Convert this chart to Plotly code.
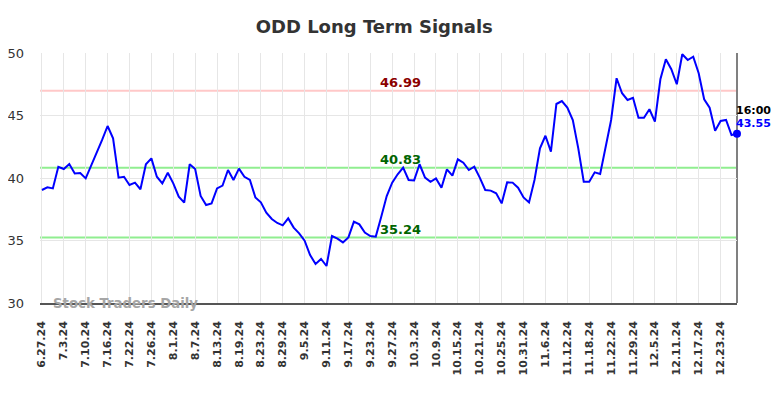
import plotly.graph_objects as go

dates = [
    "6.27.24", "6.28.24",
    "7.1.24", "7.2.24", "7.3.24", "7.5.24", "7.8.24", "7.9.24", "7.10.24", "7.11.24", "7.12.24",
    "7.15.24", "7.16.24", "7.17.24", "7.18.24", "7.19.24", "7.22.24", "7.23.24", "7.24.24",
    "7.25.24", "7.26.24", "7.29.24", "7.30.24", "7.31.24",
    "8.1.24", "8.2.24", "8.5.24", "8.6.24", "8.7.24", "8.8.24", "8.9.24", "8.12.24", "8.13.24",
    "8.14.24", "8.15.24", "8.16.24", "8.19.24", "8.20.24", "8.21.24", "8.22.24", "8.23.24",
    "8.26.24", "8.27.24", "8.28.24", "8.29.24", "8.30.24",
    "9.3.24", "9.4.24", "9.5.24", "9.6.24", "9.9.24", "9.10.24", "9.11.24", "9.12.24", "9.13.24",
    "9.16.24", "9.17.24", "9.18.24", "9.19.24", "9.20.24", "9.23.24", "9.24.24", "9.25.24",
    "9.26.24", "9.27.24", "9.30.24",
    "10.1.24", "10.2.24", "10.3.24", "10.4.24", "10.7.24", "10.8.24", "10.9.24", "10.10.24",
    "10.11.24", "10.14.24", "10.15.24", "10.16.24", "10.17.24", "10.18.24", "10.21.24",
    "10.22.24", "10.23.24", "10.24.24", "10.25.24", "10.28.24", "10.29.24", "10.30.24", "10.31.24",
    "11.1.24", "11.4.24", "11.5.24", "11.6.24", "11.7.24", "11.8.24", "11.11.24", "11.12.24",
    "11.13.24", "11.14.24", "11.15.24", "11.18.24", "11.19.24", "11.20.24", "11.21.24", "11.22.24",
    "11.25.24", "11.26.24", "11.27.24", "11.29.24",
    "12.2.24", "12.3.24", "12.4.24", "12.5.24", "12.6.24", "12.9.24", "12.10.24", "12.11.24",
    "12.12.24", "12.13.24", "12.16.24", "12.17.24", "12.18.24", "12.19.24", "12.20.24", "12.23.24",
    "12.24.24", "12.26.24", "12.27.24",
]

values = [
    39.04, 39.25, 39.17, 40.90, 40.72, 41.12, 40.37, 40.40, 39.97, 40.96,
    42.00, 43.05, 44.16, 43.17, 40.03, 40.10, 39.44, 39.63, 39.10, 41.10,
    41.57, 40.10, 39.57, 40.42, 39.57, 38.50, 38.03, 41.10, 40.72, 38.56,
    37.84, 37.97, 39.17, 39.39, 40.64, 39.84, 40.75, 40.10, 39.84, 38.45,
    38.05, 37.23, 36.72, 36.40, 36.21, 36.77, 36.03, 35.57, 34.99, 33.84,
    33.12, 33.52, 32.96, 35.36, 35.15, 34.85, 35.25, 36.51, 36.29, 35.63,
    35.36, 35.31, 36.90, 38.56, 39.63, 40.30, 40.83, 39.84, 39.81, 41.10,
    40.03, 39.70, 39.97, 39.22, 40.69, 40.19, 41.49, 41.22, 40.64, 40.90,
    40.03, 39.04, 38.99, 38.78, 37.97, 39.65, 39.63, 39.22, 38.45, 38.05,
    39.84, 42.37, 43.38, 42.11, 45.92, 46.16, 45.63, 44.64, 42.37, 39.70,
    39.70, 40.45, 40.32, 42.42, 44.64, 47.98, 46.78, 46.24, 46.42, 44.82,
    44.82, 45.50, 44.51, 47.90, 49.50, 48.70, 47.50, 49.90, 49.44, 49.70,
    48.38, 46.30, 45.62, 43.78, 44.56, 44.64, 43.44, 43.55,
]

tick_labels = [
    "6.27.24", "7.3.24", "7.10.24", "7.16.24", "7.22.24", "7.26.24", "8.1.24", "8.7.24",
    "8.13.24", "8.19.24", "8.23.24", "8.29.24", "9.5.24", "9.11.24", "9.17.24", "9.23.24",
    "9.27.24", "10.3.24", "10.9.24", "10.15.24", "10.21.24", "10.25.24", "10.31.24", "11.6.24",
    "11.12.24", "11.18.24", "11.22.24", "11.29.24", "12.5.24", "12.11.24", "12.17.24", "12.23.24",
]

resistance = 46.99
mid_level = 40.83
support = 35.24
last_time = "16:00"
title_text = "ODD Long Term Signals"
watermark = "Stock Traders Daily"

FONT = "DejaVu Sans"

fig = go.Figure()

fig.add_trace(go.Scatter(
    x=dates, y=values, mode="lines",
    line=dict(color="#0000ff", width=2),
    hoverinfo="skip", showlegend=False,
))
fig.add_trace(go.Scatter(
    x=[dates[-1]], y=[values[-1]], mode="markers",
    marker=dict(color="#0000ff", size=8, line=dict(width=0)),
    hoverinfo="skip", showlegend=False, cliponaxis=False,
))

for lvl, col in [(resistance, "#ffc8c8"), (mid_level, "#90ee90"), (support, "#90ee90")]:
    fig.add_shape(type="line", xref="paper", x0=0, x1=1, yref="y", y0=lvl, y1=lvl,
                  line=dict(color=col, width=2), layer="below")

mid_cat = dates[66]
for lvl, col in [(resistance, "#8b0000"), (mid_level, "#006400"), (support, "#006400")]:
    fig.add_annotation(x=mid_cat, y=lvl, text=f"<b>{lvl:.2f}</b>", showarrow=False,
                       yanchor="bottom", xanchor="center", xshift=-3, yshift=-1,
                       font=dict(family=FONT, size=13, color=col))

# right edge line
fig.add_shape(type="line", xref="paper", yref="paper", x0=1, x1=1, y0=0, y1=1,
              line=dict(color="#808080", width=2), layer="below")

fig.add_annotation(x=dates[-1], y=values[-1], text=f"<b>{last_time}</b>", showarrow=False,
                   xanchor="left", yanchor="bottom", xshift=-3, yshift=15,
                   font=dict(family=FONT, size=11, color="#000000"))
fig.add_annotation(x=dates[-1], y=values[-1], text=f"<b>{values[-1]:.2f}</b>", showarrow=False,
                   xanchor="left", yanchor="bottom", xshift=-3, yshift=2,
                   font=dict(family=FONT, size=11, color="#0000ff"))

fig.add_annotation(xref="paper", yref="y", x=0.016, y=30, text=f"<b>{watermark}</b>",
                   showarrow=False, xanchor="left", yanchor="middle",
                   font=dict(family=FONT, size=13.3, color="#a6a6a6"))

fig.update_layout(
    width=776, height=390,
    margin=dict(l=32, r=47, t=45, b=95),
    paper_bgcolor="white", plot_bgcolor="white",
    title=dict(text=f"<b>{title_text}</b>", x=0.472, xanchor="center", y=0.952, yanchor="middle",
               font=dict(family=FONT, size=18, color="#333333")),
    xaxis=dict(
        type="category", range=[-0.35, len(dates) - 1],
        tickmode="array", tickvals=tick_labels, ticktext=[f"<b>{t}</b>" for t in tick_labels],
        tickangle=-90, tickfont=dict(family=FONT, size=11, color="#333333"),
        ticklabelstandoff=12, automargin=False,
        showgrid=True, gridcolor="#e6e6e6", gridwidth=1,
        showline=True, linecolor="#555555", linewidth=1.5,
        ticks="", zeroline=False,
    ),
    yaxis=dict(
        range=[30, 50], tickvals=[30, 35, 40, 45, 50],
        tickfont=dict(family=FONT, size=13, color="#333333"),
        ticklabelstandoff=15, automargin=False,
        showgrid=True, gridcolor="#e6e6e6", gridwidth=1,
        showline=False, zeroline=False, ticks="",
    ),
)

fig.write_html("out.html")
